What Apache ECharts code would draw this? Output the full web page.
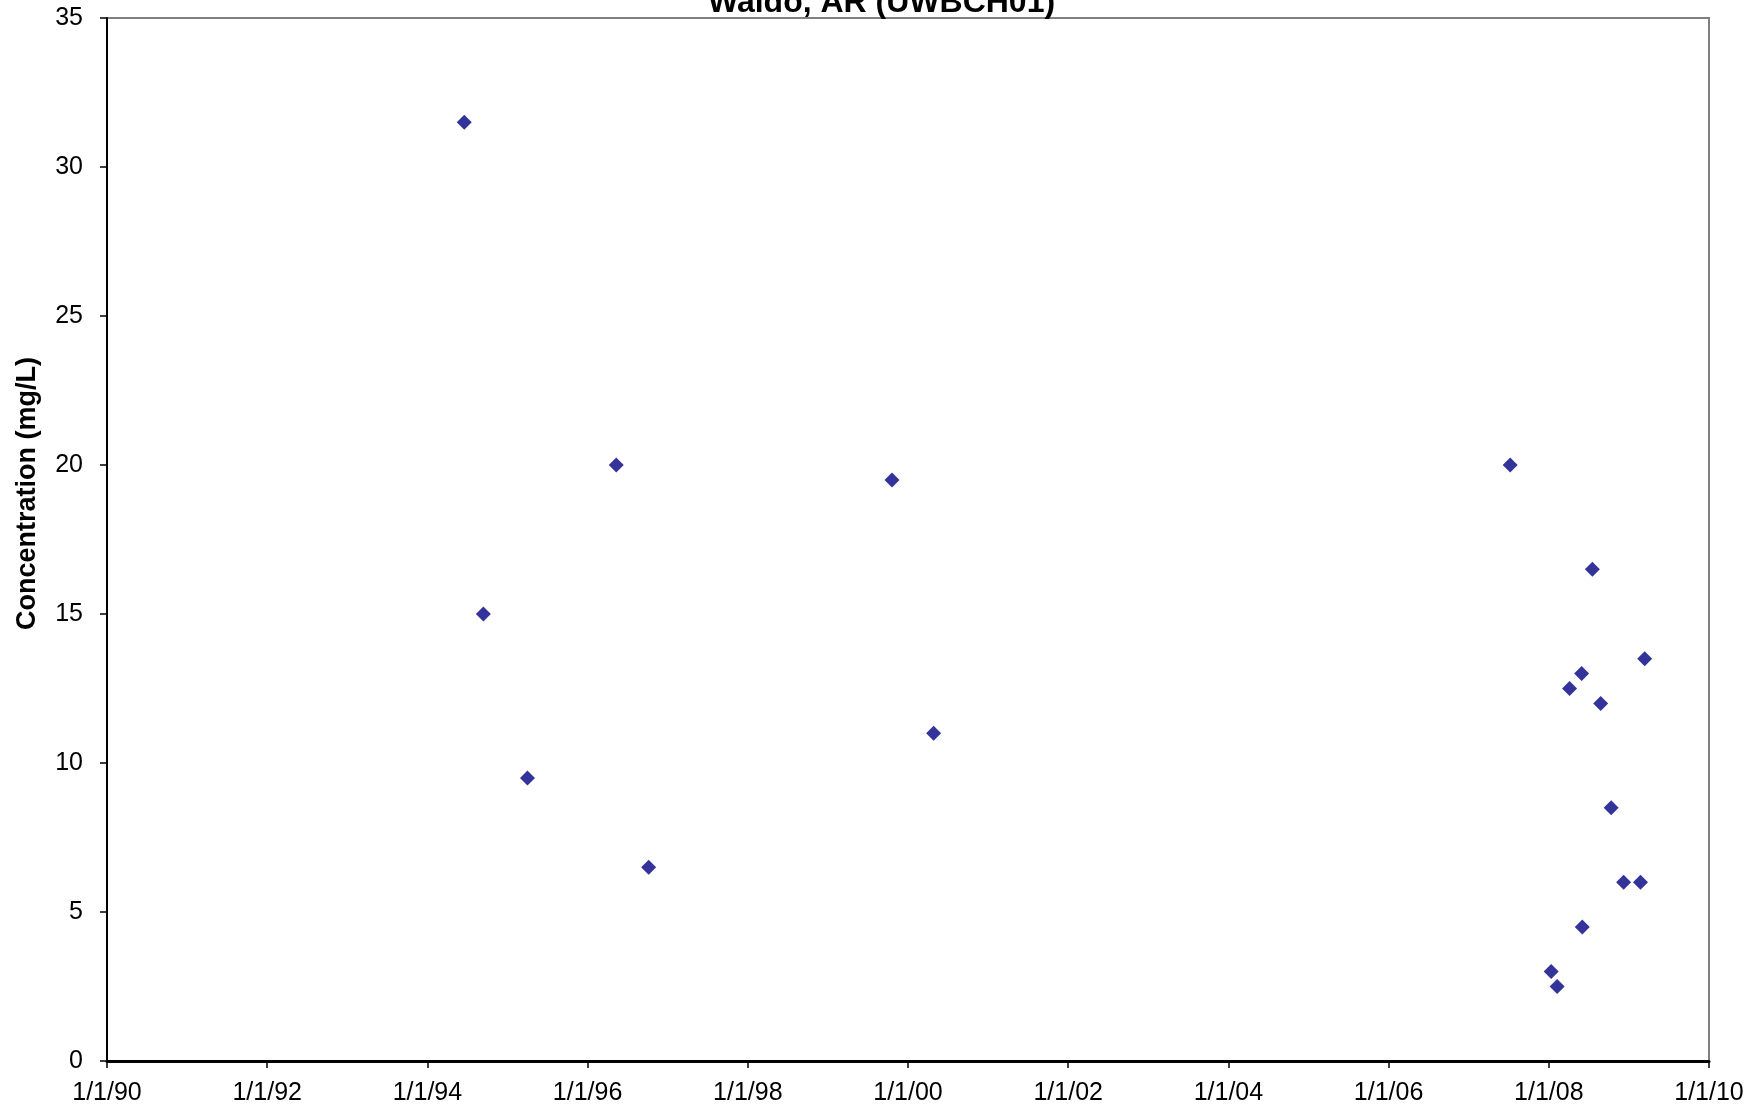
<!DOCTYPE html>
<html>
<head>
<meta charset="utf-8">
<title>Waldo, AR (UWBCH01)</title>
<script src="https://cdn.jsdelivr.net/npm/echarts@6/dist/echarts.min.js"></script>
<style>
  html, body { margin: 0; padding: 0; background: #ffffff; }
  #chart { width: 1763px; height: 1112px; }
</style>
</head>
<body>
<div id="chart"></div>
<script>
// Sample dates and measured concentrations (mg/L)
const sampleDates = [
  '1994-06-18', '1994-09-13', '1995-04-02', '1996-05-11', '1996-10-06',
  '1999-10-20', '2000-04-27', '2007-07-09', '2008-01-12', '2008-02-08',
  '2008-04-05', '2008-05-30', '2008-06-02', '2008-07-18', '2008-08-25',
  '2008-10-12', '2008-12-08', '2009-02-23', '2009-03-14'
];
const concentrations = [
  31.5, 15, 9.5, 20, 6.5,
  19.5, 11, 20, 3, 2.5,
  12.5, 13, 4.5, 16.5, 12,
  8.5, 6, 6, 13.5
];

// Axis ranges and tick steps
const xStartYear = 1990;
const xEndYear = 2010;
const xStepYears = 2;
const yMin = 0;
const yMax = 35;
const yStep = 5;

const FONT = '"Liberation Sans", Arial, sans-serif';

// Date string -> fractional year, so ticks land exactly on 1 January
function toYearFraction(s) {
  const [y, m, d] = s.split('-').map(Number);
  const start = Date.UTC(y, 0, 1);
  const next = Date.UTC(y + 1, 0, 1);
  return y + (Date.UTC(y, m - 1, d) - start) / (next - start);
}

const points = sampleDates.map((s, i) => [toYearFraction(s), concentrations[i]]);

const chart = echarts.init(document.getElementById('chart'), null, { renderer: 'canvas' });

chart.setOption({
  animation: false,
  backgroundColor: '#ffffff',
  title: {
    text: 'Waldo, AR (UWBCH01)',
    left: 'center',
    top: -13,
    padding: 0,
    textStyle: { fontFamily: FONT, fontSize: 32, fontWeight: 'bold', color: '#000000' }
  },
  grid: {
    left: 107,
    right: 54,
    top: 18,
    bottom: 51,
    show: true,
    borderColor: '#808080',
    borderWidth: 2,
    backgroundColor: '#ffffff'
  },
  xAxis: {
    type: 'value',
    min: xStartYear,
    max: xEndYear,
    interval: xStepYears,
    axisLine: { show: true, onZero: false, lineStyle: { color: '#000000', width: 3 } },
    axisTick: { show: true, inside: false, length: 7, lineStyle: { color: '#000000', width: 1.5 } },
    splitLine: { show: false },
    axisLabel: {
      margin: 20,
      fontFamily: FONT,
      fontSize: 25,
      color: '#000000',
      formatter: v => '1/1/' + String(Math.round(v)).slice(2)
    }
  },
  yAxis: {
    type: 'value',
    min: yMin,
    max: yMax,
    interval: yStep,
    name: 'Concentration (mg/L)',
    nameLocation: 'middle',
    nameRotate: 90,
    nameGap: 66,
    nameTextStyle: {
      fontFamily: FONT, fontSize: 27, fontWeight: 'bold', color: '#000000',
      padding: [0, 0, 0, 92]
    },
    axisLine: { show: true, onZero: false, lineStyle: { color: '#000000', width: 2 } },
    axisTick: { show: true, inside: false, length: 7, lineStyle: { color: '#000000', width: 1.5 } },
    splitLine: { show: false },
    axisLabel: { margin: 24, fontFamily: FONT, fontSize: 25, color: '#000000' }
  },
  series: [{
    type: 'scatter',
    data: points,
    symbol: 'diamond',
    symbolSize: [15, 15],
    itemStyle: { color: '#000080' }
  }]
});
</script>
</body>
</html>
